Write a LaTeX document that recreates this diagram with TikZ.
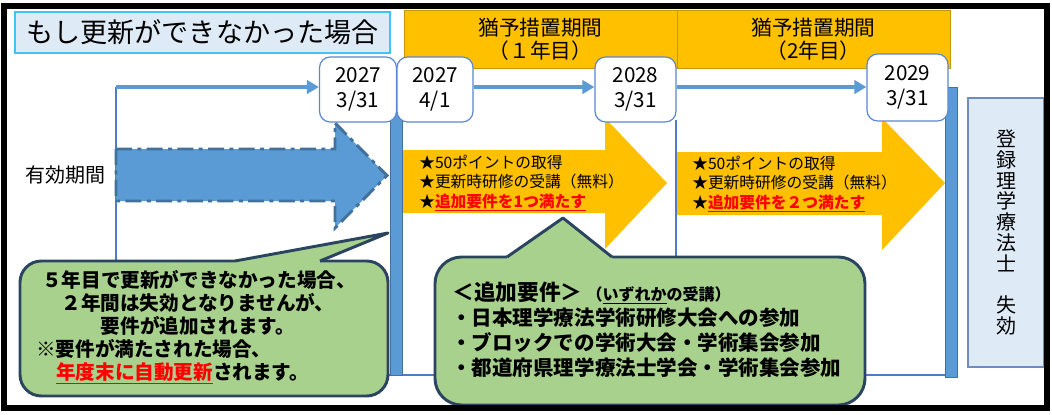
\documentclass[tikz,border=0pt]{standalone}
\usepackage{fontspec}
\setmainfont{Noto Sans CJK JP}
\usetikzlibrary{arrows.meta}
\definecolor{barblue}{HTML}{5B9BD5}
\definecolor{bardark}{HTML}{41719C}
\definecolor{lineblue}{HTML}{4F7CC8}
\definecolor{boxblue}{HTML}{5B87D0}
\definecolor{orange1}{HTML}{FFC000}
\definecolor{orangedark}{HTML}{C89600}
\definecolor{green1}{HTML}{A9D18E}
\definecolor{navy}{HTML}{2B4560}
\definecolor{lightblue}{HTML}{DEEBF7}
\definecolor{titlecyan}{HTML}{3FC5F0}
\definecolor{regborder}{HTML}{6A8EBF}
\definecolor{redtxt}{HTML}{FF0000}
\tikzset{
  thinblue/.style={draw=lineblue, line width=1pt},
  toparrow/.style={draw=barblue, line width=2.6pt, -{Triangle[length=9pt,width=10pt]}},
  datebox/.style={draw=boxblue, line width=0.9pt, fill=white, rounded corners=8pt,
    inner sep=0pt, align=center, font=\fontsize{15.5}{19}\selectfont},
  hdr/.style={fill=orange1, draw=orangedark, line width=0.6pt, minimum width=204.75pt,
    minimum height=43.5pt, inner sep=0pt, align=center, font=\fontsize{15.5}{17.5}\selectfont},
  bar/.style={fill=barblue, draw=bardark, line width=0.6pt},
  callout/.style={fill=green1, draw=navy, line width=2.2pt, rounded corners=16pt},
  calloutside/.style={draw=navy, line width=2.2pt, line join=round},
  ctext/.style={font=\bfseries\fontsize{14.7}{17}\selectfont, inner sep=0pt},
  dtext/.style={font=\bfseries\fontsize{15.4}{17}\selectfont, inner sep=0pt, anchor=west},
  otext/.style={font=\fontsize{11.8}{14.6}\selectfont, inner sep=0pt, anchor=west, align=left},
  oarrow/.style={fill=orange1},
}
\begin{document}
\begin{tikzpicture}[x=0.75pt,y=-0.75pt]
\useasboundingbox (0,0) rectangle (1052,414);
\fill[white] (0,0) rectangle (1052,414);

% thin frame lines
\coordinate (tl) at (116,87);
\coordinate (bl) at (116,375);
\coordinate (br) at (945,375);
\draw[thinblue] (tl) -- (bl) -- (br);
\draw[thinblue] (676,120) -- (676,375);

% big blue arrow (valid period)
\draw[fill=barblue, draw=bardark, line width=2.2pt, dash pattern=on 12pt off 4pt on 3pt off 4pt]
  (116,149) -- (335,149) -- (335,123) -- (387,175.5) -- (335,228) -- (335,201) -- (116,201) -- cycle;

% orange arrows
\fill[oarrow] (400,150) -- (605,150) -- (605,118) -- (667,183) -- (605,249) -- (605,213) -- (400,213) -- cycle;
\fill[oarrow] (677,152) -- (882,152) -- (882,118) -- (945,183) -- (882,250) -- (882,215) -- (677,215) -- cycle;

% bars
\filldraw[bar] (390,100) rectangle (402,375);
\filldraw[bar] (945,87) rectangle (957,377);

% headers
\node[hdr] (h1) at (540.5,39) {猶予措置期間\\（１年目）};
\node[hdr] (h2) at (813.5,39) {猶予措置期間\\（2年目）};

% title
\node[fill=lightblue, draw=titlecyan, line width=0.9pt, minimum width=281.25pt, minimum height=30.75pt,
  inner sep=0pt, font=\fontsize{20.3}{22}\selectfont] (title) at (202.5,32.5) {もし更新ができなかった場合};

% date boxes
\node[datebox, minimum width=57.75pt, minimum height=48.75pt] (d1) at (358,89.5) {2027\\3/31};
\node[datebox, minimum width=57pt, minimum height=48.75pt] (d2) at (435,89.5) {2027\\4/1};
\node[datebox, minimum width=60.75pt, minimum height=48.75pt] (d3) at (635.5,89.5) {2028\\3/31};
\node[datebox, minimum width=60.75pt, minimum height=50.25pt] (d4) at (907.5,87.5) {2029\\3/31};

% top arrows
\draw[toparrow] (tl) -- (tl -| d1.west);
\draw[toparrow] (d2.east |- tl) -- (tl -| d3.west);
\draw[toparrow] (d3.east |- tl) -- (tl -| d4.west);

% valid period label
\node[font=\fontsize{15}{17}\selectfont, inner sep=0pt] (valid) at (65,175) {有効期間};

% orange arrow texts
\node[otext] (o1) at (419,183) {★50ポイントの取得\\★更新時研修の受講（無料）\\★{\color{redtxt}\bfseries\underline{追加要件を1つ満たす}}};
\node[otext] (o2) at (692,184) {★50ポイントの取得\\★更新時研修の受講（無料）\\★{\color{redtxt}\bfseries\underline{追加要件を２つ満たす}}};

% registration lapse box
\node[fill=lightblue, draw=regborder, line width=0.9pt, minimum width=57pt, minimum height=201.75pt,
  inner sep=0pt, align=center, font=\fontsize{15}{15.6}\selectfont] (reg) at (1006,232.5)
  {登\\録\\理\\学\\療\\法\\士\\\phantom{失}\\失\\効};

% callout 1
\filldraw[callout] (20,261) rectangle (388,396);
\fill[green1] (235,266) -- (235,261) -- (388,233) -- (320,261) -- (320,266) -- cycle;
\draw[calloutside] (235,261) -- (388,233) -- (320,261);
\node[ctext] (c1a) at (199,280) {５年目で更新ができなかった場合、};
\node[ctext] (c1b) at (198,303) {２年間は失効となりませんが、};
\node[ctext] (c1c) at (198,326) {要件が追加されます。};
\node[ctext, anchor=west] (c1d) at (36,349) {※要件が満たされた場合、};
\node[ctext, anchor=west] (c1e) at (56,373) {{\color{redtxt}\underline{年度末に自動更新}}されます。};

% callout 2
\filldraw[callout, rounded corners=20pt] (435,257) rectangle (865,405);
\fill[green1] (507,262) -- (507,257) -- (563,218) -- (612,257) -- (612,262) -- cycle;
\draw[calloutside] (507,257) -- (563,218) -- (612,257);
\node[dtext] (c2a) at (452,293) {{\fontsize{16.3}{17}\selectfont ＜追加要件＞}\hspace{3pt}{\fontsize{12}{13}\selectfont （\underline{いずれか}の受講）}};
\node[dtext] (c2b) at (451,318) {・日本理学療法学術研修大会への参加};
\node[dtext] (c2c) at (451,343) {・ブロックでの学術大会・学術集会参加};
\node[dtext] (c2d) at (451,368) {・都道府県理学療法士学会・学術集会参加};

% outer frame
\draw[line width=4.5pt] (4,5.5) rectangle (1047,408);
\end{tikzpicture}
\end{document}
